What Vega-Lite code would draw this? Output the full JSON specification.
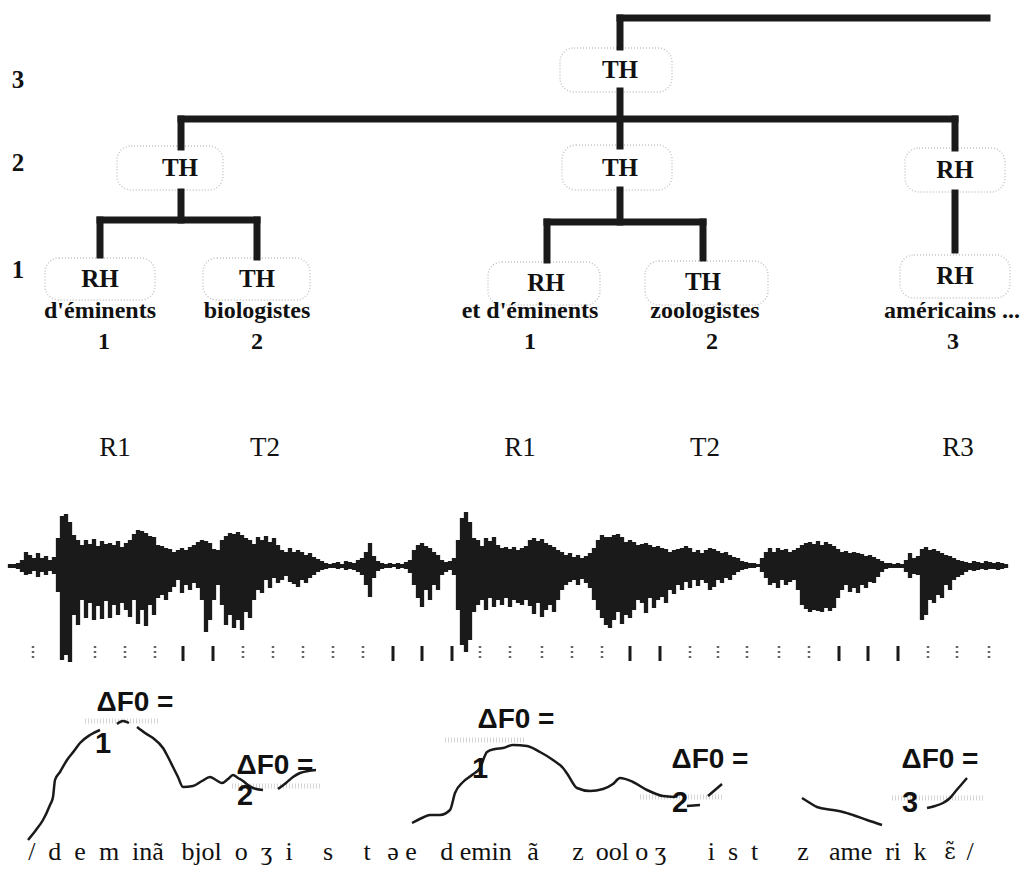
{
  "$schema": "https://vega.github.io/schema/vega-lite/v6.json",
  "width": 1024,
  "height": 881,
  "autosize": {"type": "fit", "contains": "padding"},
  "padding": 0,
  "background": "white",
  "config": {"view": {"stroke": null}},
  "datasets": {
    "tree": [
      {"x": 620, "y": 18, "x2": 987, "y2": 18},
      {"x": 620, "y": 18, "x2": 620, "y2": 47},
      {"x": 620, "y": 91, "x2": 620, "y2": 146},
      {"x": 181, "y": 119, "x2": 955, "y2": 119},
      {"x": 181, "y": 119, "x2": 181, "y2": 147},
      {"x": 955, "y": 119, "x2": 955, "y2": 148},
      {"x": 181, "y": 192, "x2": 181, "y2": 220},
      {"x": 100, "y": 220, "x2": 257, "y2": 220},
      {"x": 100, "y": 220, "x2": 100, "y2": 255},
      {"x": 257, "y": 220, "x2": 257, "y2": 257},
      {"x": 620, "y": 190, "x2": 620, "y2": 222},
      {"x": 547, "y": 222, "x2": 703, "y2": 222},
      {"x": 547, "y": 222, "x2": 547, "y2": 260},
      {"x": 703, "y": 222, "x2": 703, "y2": 258},
      {"x": 955, "y": 193, "x2": 955, "y2": 250}
    ],
    "boxes": [
      {"x": 560, "x2": 672, "y": 48, "y2": 92},
      {"x": 117, "x2": 223, "y": 146, "y2": 190},
      {"x": 562, "x2": 672, "y": 145, "y2": 190},
      {"x": 905, "x2": 1005, "y": 148, "y2": 192},
      {"x": 45, "x2": 155, "y": 258, "y2": 300},
      {"x": 203, "x2": 310, "y": 258, "y2": 300},
      {"x": 488, "x2": 600, "y": 262, "y2": 305},
      {"x": 645, "x2": 768, "y": 261, "y2": 305},
      {"x": 900, "x2": 1010, "y": 255, "y2": 298}
    ],
    "levels": [
      {"x": 18, "y": 80, "text": "3"},
      {"x": 18, "y": 163, "text": "2"},
      {"x": 18, "y": 270, "text": "1"}
    ],
    "nodes": [
      {"x": 620, "y": 70, "text": "TH"},
      {"x": 180, "y": 168, "text": "TH"},
      {"x": 620, "y": 168, "text": "TH"},
      {"x": 955, "y": 170, "text": "RH"},
      {"x": 100, "y": 279, "text": "RH"},
      {"x": 257, "y": 279, "text": "TH"},
      {"x": 546, "y": 283, "text": "RH"},
      {"x": 703, "y": 282, "text": "TH"},
      {"x": 955, "y": 276, "text": "RH"}
    ],
    "words": [
      {"x": 100, "y": 311, "text": "d'éminents"},
      {"x": 257, "y": 311, "text": "biologistes"},
      {"x": 530, "y": 311, "text": "et d'éminents"},
      {"x": 705, "y": 311, "text": "zoologistes"},
      {"x": 952, "y": 311, "text": "américains ..."},
      {"x": 104, "y": 342, "text": "1"},
      {"x": 257, "y": 342, "text": "2"},
      {"x": 530, "y": 342, "text": "1"},
      {"x": 712, "y": 342, "text": "2"},
      {"x": 953, "y": 342, "text": "3"}
    ],
    "codes": [
      {"x": 115, "y": 448, "text": "R1"},
      {"x": 265, "y": 448, "text": "T2"},
      {"x": 520, "y": 448, "text": "R1"},
      {"x": 705, "y": 448, "text": "T2"},
      {"x": 958, "y": 448, "text": "R3"}
    ],
    "wave": [
      {"x":10,"t":564,"b":568},{"x":14,"t":564,"b":568},{"x":18,"t":563,"b":569},{"x":22,"t":560,"b":572},
      {"x":26,"t":552,"b":575},{"x":30,"t":555,"b":574},{"x":34,"t":558,"b":571},{"x":38,"t":553,"b":577},
      {"x":42,"t":558,"b":572},{"x":46,"t":556,"b":575},{"x":50,"t":560,"b":571},{"x":54,"t":557,"b":574},
      {"x":58,"t":538,"b":592},{"x":62,"t":516,"b":660},{"x":66,"t":514,"b":655},{"x":70,"t":522,"b":662},
      {"x":74,"t":535,"b":615},{"x":78,"t":540,"b":625},{"x":82,"t":545,"b":600},{"x":86,"t":540,"b":618},
      {"x":90,"t":544,"b":603},{"x":94,"t":539,"b":620},{"x":98,"t":546,"b":606},{"x":102,"t":541,"b":619},
      {"x":106,"t":544,"b":601},{"x":110,"t":543,"b":618},{"x":114,"t":545,"b":605},{"x":118,"t":541,"b":615},
      {"x":122,"t":547,"b":603},{"x":126,"t":543,"b":610},{"x":130,"t":540,"b":617},{"x":134,"t":534,"b":600},
      {"x":138,"t":530,"b":624},{"x":142,"t":531,"b":610},{"x":146,"t":533,"b":626},{"x":150,"t":536,"b":605},
      {"x":154,"t":537,"b":615},{"x":158,"t":545,"b":598},{"x":162,"t":546,"b":595},{"x":166,"t":548,"b":600},
      {"x":170,"t":549,"b":592},{"x":174,"t":552,"b":587},{"x":178,"t":550,"b":580},{"x":182,"t":548,"b":593},
      {"x":186,"t":550,"b":585},{"x":190,"t":547,"b":590},{"x":194,"t":545,"b":583},{"x":198,"t":542,"b":588},
      {"x":202,"t":540,"b":600},{"x":206,"t":541,"b":632},{"x":210,"t":543,"b":620},{"x":214,"t":549,"b":600},
      {"x":218,"t":550,"b":585},{"x":222,"t":540,"b":605},{"x":226,"t":536,"b":625},{"x":230,"t":533,"b":615},
      {"x":234,"t":534,"b":628},{"x":238,"t":532,"b":620},{"x":242,"t":535,"b":630},{"x":246,"t":538,"b":612},
      {"x":250,"t":540,"b":618},{"x":254,"t":544,"b":600},{"x":258,"t":537,"b":590},{"x":262,"t":540,"b":593},
      {"x":266,"t":536,"b":580},{"x":270,"t":542,"b":588},{"x":274,"t":538,"b":578},{"x":278,"t":545,"b":583},
      {"x":282,"t":550,"b":580},{"x":286,"t":552,"b":576},{"x":290,"t":548,"b":582},{"x":294,"t":552,"b":584},
      {"x":298,"t":550,"b":587},{"x":302,"t":552,"b":580},{"x":306,"t":555,"b":583},{"x":310,"t":553,"b":578},
      {"x":314,"t":557,"b":575},{"x":318,"t":559,"b":572},{"x":322,"t":561,"b":570},{"x":326,"t":563,"b":569},
      {"x":330,"t":564,"b":568},{"x":334,"t":563,"b":568},{"x":338,"t":562,"b":569},{"x":342,"t":564,"b":568},
      {"x":346,"t":561,"b":570},{"x":350,"t":562,"b":569},{"x":354,"t":563,"b":570},{"x":358,"t":560,"b":572},
      {"x":362,"t":558,"b":575},{"x":366,"t":552,"b":585},{"x":370,"t":543,"b":597},{"x":374,"t":556,"b":578},
      {"x":378,"t":561,"b":571},{"x":382,"t":563,"b":569},{"x":386,"t":564,"b":568},{"x":390,"t":563,"b":568},
      {"x":394,"t":564,"b":567},{"x":398,"t":563,"b":569},{"x":402,"t":564,"b":568},{"x":406,"t":562,"b":569},
      {"x":410,"t":560,"b":573},{"x":414,"t":550,"b":585},{"x":418,"t":545,"b":598},{"x":422,"t":543,"b":607},
      {"x":426,"t":546,"b":590},{"x":430,"t":548,"b":600},{"x":434,"t":552,"b":585},{"x":438,"t":555,"b":590},
      {"x":442,"t":560,"b":575},{"x":446,"t":562,"b":572},{"x":450,"t":561,"b":570},{"x":454,"t":558,"b":575},
      {"x":458,"t":540,"b":610},{"x":462,"t":518,"b":645},{"x":466,"t":512,"b":652},{"x":470,"t":522,"b":640},
      {"x":474,"t":538,"b":612},{"x":478,"t":540,"b":605},{"x":482,"t":546,"b":600},{"x":486,"t":538,"b":610},
      {"x":490,"t":541,"b":598},{"x":494,"t":537,"b":607},{"x":498,"t":545,"b":600},{"x":502,"t":548,"b":605},
      {"x":506,"t":547,"b":598},{"x":510,"t":549,"b":607},{"x":514,"t":547,"b":600},{"x":518,"t":550,"b":603},
      {"x":522,"t":548,"b":605},{"x":526,"t":546,"b":600},{"x":530,"t":540,"b":606},{"x":534,"t":538,"b":614},
      {"x":538,"t":541,"b":603},{"x":542,"t":539,"b":617},{"x":546,"t":543,"b":610},{"x":550,"t":545,"b":605},
      {"x":554,"t":547,"b":612},{"x":558,"t":550,"b":600},{"x":562,"t":552,"b":590},{"x":566,"t":555,"b":585},
      {"x":570,"t":553,"b":582},{"x":574,"t":557,"b":580},{"x":578,"t":555,"b":585},{"x":582,"t":558,"b":579},
      {"x":586,"t":556,"b":583},{"x":590,"t":553,"b":588},{"x":594,"t":548,"b":600},{"x":598,"t":540,"b":610},
      {"x":602,"t":535,"b":618},{"x":606,"t":537,"b":625},{"x":610,"t":537,"b":628},{"x":614,"t":535,"b":620},
      {"x":618,"t":534,"b":612},{"x":622,"t":537,"b":624},{"x":626,"t":542,"b":615},{"x":630,"t":540,"b":618},
      {"x":634,"t":542,"b":610},{"x":638,"t":545,"b":600},{"x":642,"t":544,"b":603},{"x":646,"t":543,"b":613},
      {"x":650,"t":545,"b":598},{"x":654,"t":547,"b":608},{"x":658,"t":546,"b":600},{"x":662,"t":548,"b":597},
      {"x":666,"t":549,"b":603},{"x":670,"t":552,"b":590},{"x":674,"t":550,"b":594},{"x":678,"t":549,"b":585},
      {"x":682,"t":548,"b":590},{"x":686,"t":546,"b":582},{"x":690,"t":548,"b":588},{"x":694,"t":552,"b":580},
      {"x":698,"t":550,"b":586},{"x":702,"t":553,"b":580},{"x":706,"t":550,"b":583},{"x":710,"t":548,"b":590},
      {"x":714,"t":549,"b":587},{"x":718,"t":551,"b":580},{"x":722,"t":553,"b":583},{"x":726,"t":552,"b":578},
      {"x":730,"t":555,"b":580},{"x":734,"t":557,"b":575},{"x":738,"t":558,"b":572},{"x":742,"t":561,"b":570},
      {"x":746,"t":562,"b":569},{"x":750,"t":563,"b":568},{"x":754,"t":563,"b":568},{"x":758,"t":564,"b":567},
      {"x":762,"t":558,"b":572},{"x":766,"t":552,"b":578},{"x":770,"t":548,"b":585},{"x":774,"t":552,"b":583},
      {"x":778,"t":548,"b":588},{"x":782,"t":550,"b":580},{"x":786,"t":549,"b":585},{"x":790,"t":552,"b":582},
      {"x":794,"t":550,"b":580},{"x":798,"t":548,"b":590},{"x":802,"t":545,"b":605},{"x":806,"t":543,"b":609},
      {"x":810,"t":542,"b":612},{"x":814,"t":544,"b":610},{"x":818,"t":541,"b":611},{"x":822,"t":545,"b":612},
      {"x":826,"t":542,"b":608},{"x":830,"t":544,"b":611},{"x":834,"t":546,"b":608},{"x":838,"t":549,"b":598},
      {"x":842,"t":552,"b":590},{"x":846,"t":551,"b":585},{"x":850,"t":553,"b":592},{"x":854,"t":552,"b":588},
      {"x":858,"t":553,"b":593},{"x":862,"t":554,"b":585},{"x":866,"t":556,"b":588},{"x":870,"t":555,"b":582},
      {"x":874,"t":557,"b":583},{"x":878,"t":559,"b":577},{"x":882,"t":561,"b":572},{"x":886,"t":563,"b":569},
      {"x":890,"t":563,"b":568},{"x":894,"t":564,"b":568},{"x":898,"t":563,"b":568},{"x":902,"t":564,"b":568},
      {"x":906,"t":560,"b":572},{"x":910,"t":553,"b":578},{"x":914,"t":558,"b":574},{"x":918,"t":556,"b":575},
      {"x":922,"t":549,"b":620},{"x":926,"t":547,"b":615},{"x":930,"t":550,"b":600},{"x":934,"t":549,"b":603},
      {"x":938,"t":551,"b":595},{"x":942,"t":553,"b":598},{"x":946,"t":555,"b":585},{"x":950,"t":556,"b":590},
      {"x":954,"t":558,"b":580},{"x":958,"t":560,"b":577},{"x":962,"t":561,"b":575},{"x":966,"t":562,"b":572},
      {"x":970,"t":563,"b":570},{"x":974,"t":561,"b":571},{"x":978,"t":562,"b":570},{"x":982,"t":563,"b":569},
      {"x":986,"t":561,"b":570},{"x":990,"t":562,"b":569},{"x":994,"t":563,"b":569},{"x":998,"t":562,"b":570},
      {"x":1002,"t":563,"b":569},{"x":1006,"t":564,"b":568}
    ],
    "ticksSolid": [
      {"x": 183}, {"x": 213}, {"x": 393}, {"x": 422}, {"x": 452},
      {"x": 630}, {"x": 660}, {"x": 839}, {"x": 868}, {"x": 898}
    ],
    "ticksDotted": [
      {"x": 33}, {"x": 95}, {"x": 125}, {"x": 155}, {"x": 243}, {"x": 273},
      {"x": 303}, {"x": 333}, {"x": 363}, {"x": 480}, {"x": 510}, {"x": 542},
      {"x": 572}, {"x": 602}, {"x": 690}, {"x": 718}, {"x": 747}, {"x": 779},
      {"x": 809}, {"x": 928}, {"x": 957}, {"x": 989}
    ],
    "bands": [
      {"x": 85, "x2": 158, "y": 721},
      {"x": 232, "x2": 322, "y": 786},
      {"x": 445, "x2": 525, "y": 740},
      {"x": 640, "x2": 722, "y": 797},
      {"x": 892, "x2": 985, "y": 798}
    ],
    "f0": [
      {"seg":"a","i":1,"x":28,"y":840},{"seg":"a","i":2,"x":36,"y":830},{"seg":"a","i":3,"x":43,"y":820},
      {"seg":"a","i":4,"x":50,"y":805},{"seg":"a","i":5,"x":53,"y":797},{"seg":"a","i":6,"x":55,"y":780},
      {"seg":"a","i":7,"x":60,"y":772},{"seg":"a","i":8,"x":67,"y":760},{"seg":"a","i":9,"x":74,"y":751},
      {"seg":"a","i":10,"x":80,"y":743},{"seg":"a","i":11,"x":90,"y":735},{"seg":"a","i":12,"x":100,"y":730},
      {"seg":"b","i":1,"x":117,"y":724},{"seg":"b","i":2,"x":123,"y":721},{"seg":"b","i":3,"x":129,"y":723},
      {"seg":"c","i":1,"x":137,"y":727},{"seg":"c","i":2,"x":145,"y":733},{"seg":"c","i":3,"x":153,"y":738},
      {"seg":"c","i":4,"x":163,"y":748},{"seg":"c","i":5,"x":168,"y":757},{"seg":"c","i":6,"x":173,"y":767},
      {"seg":"c","i":7,"x":178,"y":777},{"seg":"c","i":8,"x":183,"y":787},{"seg":"c","i":9,"x":193,"y":786},
      {"seg":"c","i":10,"x":202,"y":781},{"seg":"c","i":11,"x":210,"y":777},{"seg":"c","i":12,"x":216,"y":780},
      {"seg":"c","i":13,"x":222,"y":783},{"seg":"c","i":14,"x":228,"y":779},{"seg":"c","i":15,"x":233,"y":775},
      {"seg":"c","i":16,"x":238,"y":778},{"seg":"c","i":17,"x":243,"y":781},{"seg":"c","i":18,"x":248,"y":785},
      {"seg":"c","i":19,"x":253,"y":788},{"seg":"c","i":20,"x":263,"y":790},
      {"seg":"d","i":1,"x":278,"y":789},{"seg":"d","i":2,"x":286,"y":783},{"seg":"d","i":3,"x":293,"y":777},
      {"seg":"d","i":4,"x":300,"y":773},{"seg":"d","i":5,"x":308,"y":771},{"seg":"d","i":6,"x":316,"y":770},
      {"seg":"e","i":1,"x":412,"y":823},{"seg":"e","i":2,"x":422,"y":818},{"seg":"e","i":3,"x":430,"y":815},
      {"seg":"e","i":4,"x":440,"y":815},{"seg":"e","i":5,"x":450,"y":810},{"seg":"e","i":6,"x":455,"y":793},
      {"seg":"e","i":7,"x":463,"y":782},{"seg":"e","i":8,"x":472,"y":775},{"seg":"e","i":9,"x":480,"y":768},
      {"seg":"e","i":10,"x":487,"y":752},{"seg":"e","i":11,"x":495,"y":749},{"seg":"e","i":12,"x":503,"y":748},
      {"seg":"e","i":13,"x":513,"y":745},{"seg":"e","i":14,"x":527,"y":746},{"seg":"e","i":15,"x":540,"y":752},
      {"seg":"e","i":16,"x":553,"y":760},{"seg":"e","i":17,"x":563,"y":768},{"seg":"e","i":18,"x":568,"y":775},
      {"seg":"e","i":19,"x":577,"y":788},{"seg":"e","i":20,"x":590,"y":791},{"seg":"e","i":21,"x":603,"y":789},
      {"seg":"e","i":22,"x":613,"y":784},{"seg":"e","i":23,"x":620,"y":778},{"seg":"e","i":24,"x":633,"y":782},
      {"seg":"e","i":25,"x":647,"y":790},{"seg":"e","i":26,"x":663,"y":796},{"seg":"e","i":27,"x":675,"y":797},
      {"seg":"f","i":1,"x":687,"y":806},{"seg":"f","i":2,"x":700,"y":805},
      {"seg":"g","i":1,"x":708,"y":796},{"seg":"g","i":2,"x":715,"y":790},{"seg":"g","i":3,"x":722,"y":784},
      {"seg":"h","i":1,"x":802,"y":798},{"seg":"h","i":2,"x":810,"y":803},{"seg":"h","i":3,"x":817,"y":807},
      {"seg":"h","i":4,"x":833,"y":810},{"seg":"h","i":5,"x":843,"y":812},{"seg":"h","i":6,"x":853,"y":815},
      {"seg":"h","i":7,"x":867,"y":820},{"seg":"h","i":8,"x":882,"y":825},
      {"seg":"i","i":1,"x":927,"y":808},{"seg":"i","i":2,"x":935,"y":806},{"seg":"i","i":3,"x":943,"y":803},
      {"seg":"i","i":4,"x":950,"y":798},{"seg":"i","i":5,"x":955,"y":792},{"seg":"i","i":6,"x":961,"y":785},
      {"seg":"i","i":7,"x":967,"y":778}
    ],
    "dlabels": [
      {"x": 135, "y": 703, "text": "ΔF0 ="},
      {"x": 275, "y": 766, "text": "ΔF0 ="},
      {"x": 516, "y": 720, "text": "ΔF0 ="},
      {"x": 710, "y": 760, "text": "ΔF0 ="},
      {"x": 940, "y": 760, "text": "ΔF0 ="}
    ],
    "ddigits": [
      {"x": 103, "y": 744, "text": "1"},
      {"x": 245, "y": 796, "text": "2"},
      {"x": 480, "y": 769, "text": "1"},
      {"x": 680, "y": 803, "text": "2"},
      {"x": 910, "y": 803, "text": "3"}
    ],
    "ipa": [
      {"x": 96, "y": 852, "text": "/\u00a0 d\u00a0 e\u00a0 m\u00a0 inã"},
      {"x": 237, "y": 852, "text": "bjol\u00a0 o\u00a0 ʒ\u00a0 i"},
      {"x": 328, "y": 852, "text": "s"},
      {"x": 367, "y": 852, "text": "t"},
      {"x": 402, "y": 852, "text": "ə e"},
      {"x": 476, "y": 852, "text": "d emin"},
      {"x": 533, "y": 852, "text": "ã"},
      {"x": 578, "y": 852, "text": "z"},
      {"x": 631, "y": 852, "text": "ool o ʒ"},
      {"x": 733, "y": 852, "text": "i\u00a0 s\u00a0 t"},
      {"x": 803, "y": 852, "text": "z"},
      {"x": 865, "y": 852, "text": "ame\u00a0 ri"},
      {"x": 920, "y": 852, "text": "k"},
      {"x": 970, "y": 852, "text": "/"}
    ],
    "ipaNasal": [
      {"x": 950, "y": 852, "text": "ɛ̃"}
    ]
  },
  "layer": [
    {
      "data": {"name": "boxes"},
      "mark": {"type": "rect", "fill": null, "stroke": "#c4c4c4", "strokeWidth": 1.5, "strokeDash": [1, 2], "cornerRadius": 14},
      "encoding": {
        "x": {"field": "x", "type": "quantitative", "scale": {"domain": [0, 1024], "nice": false, "zero": false}, "axis": null},
        "x2": {"field": "x2"},
        "y": {"field": "y", "type": "quantitative", "scale": {"domain": [0, 881], "reverse": true, "nice": false, "zero": false}, "axis": null},
        "y2": {"field": "y2"}
      }
    },
    {
      "data": {"name": "bands"},
      "mark": {"type": "rule", "stroke": "#d4d4d4", "strokeWidth": 5, "strokeDash": [1, 2]},
      "encoding": {
        "x": {"field": "x", "type": "quantitative"},
        "x2": {"field": "x2"},
        "y": {"field": "y", "type": "quantitative"}
      }
    },
    {
      "data": {"name": "tree"},
      "mark": {"type": "rule", "stroke": "#1a1a1a", "strokeWidth": 7, "strokeCap": "square"},
      "encoding": {
        "x": {"field": "x", "type": "quantitative"},
        "x2": {"field": "x2"},
        "y": {"field": "y", "type": "quantitative"},
        "y2": {"field": "y2"}
      }
    },
    {
      "data": {"name": "levels"},
      "mark": {"type": "text", "font": "Liberation Serif", "fontWeight": "bold", "fontSize": 25, "align": "center", "baseline": "middle", "color": "#111"},
      "encoding": {
        "x": {"field": "x", "type": "quantitative"},
        "y": {"field": "y", "type": "quantitative"},
        "text": {"field": "text"}
      }
    },
    {
      "data": {"name": "nodes"},
      "mark": {"type": "text", "font": "Liberation Serif", "fontWeight": "bold", "fontSize": 25, "align": "center", "baseline": "middle", "color": "#111"},
      "encoding": {
        "x": {"field": "x", "type": "quantitative"},
        "y": {"field": "y", "type": "quantitative"},
        "text": {"field": "text"}
      }
    },
    {
      "data": {"name": "words"},
      "mark": {"type": "text", "font": "Liberation Serif", "fontWeight": "bold", "fontSize": 24, "align": "center", "baseline": "middle", "color": "#111"},
      "encoding": {
        "x": {"field": "x", "type": "quantitative"},
        "y": {"field": "y", "type": "quantitative"},
        "text": {"field": "text"}
      }
    },
    {
      "data": {"name": "codes"},
      "mark": {"type": "text", "font": "Liberation Serif", "fontSize": 27, "align": "center", "baseline": "middle", "color": "#111"},
      "encoding": {
        "x": {"field": "x", "type": "quantitative"},
        "y": {"field": "y", "type": "quantitative"},
        "text": {"field": "text"}
      }
    },
    {
      "data": {"values": [{"x": 10, "x2": 1008, "y": 566}]},
      "mark": {"type": "rule", "stroke": "#1a1a1a", "strokeWidth": 2},
      "encoding": {
        "x": {"field": "x", "type": "quantitative"},
        "x2": {"field": "x2"},
        "y": {"field": "y", "type": "quantitative"}
      }
    },
    {
      "data": {"name": "wave"},
      "mark": {"type": "rule", "stroke": "#1a1a1a", "strokeWidth": 4.3},
      "encoding": {
        "x": {"field": "x", "type": "quantitative"},
        "y": {"field": "t", "type": "quantitative"},
        "y2": {"field": "b"}
      }
    },
    {
      "data": {"name": "ticksSolid"},
      "mark": {"type": "rule", "stroke": "#1a1a1a", "strokeWidth": 3},
      "encoding": {
        "x": {"field": "x", "type": "quantitative"},
        "y": {"datum": 646, "type": "quantitative"},
        "y2": {"datum": 661}
      }
    },
    {
      "data": {"name": "ticksDotted"},
      "mark": {"type": "rule", "stroke": "#666", "strokeWidth": 2.5, "strokeDash": [2, 3]},
      "encoding": {
        "x": {"field": "x", "type": "quantitative"},
        "y": {"datum": 646, "type": "quantitative"},
        "y2": {"datum": 661}
      }
    },
    {
      "data": {"name": "f0"},
      "mark": {"type": "line", "stroke": "#1a1a1a", "strokeWidth": 2.5, "interpolate": "monotone"},
      "encoding": {
        "x": {"field": "x", "type": "quantitative"},
        "y": {"field": "y", "type": "quantitative"},
        "detail": {"field": "seg"},
        "order": {"field": "i", "type": "quantitative"}
      }
    },
    {
      "data": {"name": "dlabels"},
      "mark": {"type": "text", "font": "Liberation Sans", "fontWeight": "bold", "fontSize": 28, "align": "center", "baseline": "middle", "color": "#111"},
      "encoding": {
        "x": {"field": "x", "type": "quantitative"},
        "y": {"field": "y", "type": "quantitative"},
        "text": {"field": "text"}
      }
    },
    {
      "data": {"name": "ddigits"},
      "mark": {"type": "text", "font": "Liberation Sans", "fontWeight": "bold", "fontSize": 29, "align": "center", "baseline": "middle", "color": "#111"},
      "encoding": {
        "x": {"field": "x", "type": "quantitative"},
        "y": {"field": "y", "type": "quantitative"},
        "text": {"field": "text"}
      }
    },
    {
      "data": {"name": "ipa"},
      "mark": {"type": "text", "font": "Liberation Serif", "fontSize": 26, "align": "center", "baseline": "middle", "color": "#111"},
      "encoding": {
        "x": {"field": "x", "type": "quantitative"},
        "y": {"field": "y", "type": "quantitative"},
        "text": {"field": "text"}
      }
    },
    {
      "data": {"name": "ipaNasal"},
      "mark": {"type": "text", "font": "DejaVu Serif", "fontSize": 22, "align": "center", "baseline": "middle", "color": "#111"},
      "encoding": {
        "x": {"field": "x", "type": "quantitative"},
        "y": {"field": "y", "type": "quantitative"},
        "text": {"field": "text"}
      }
    }
  ]
}
